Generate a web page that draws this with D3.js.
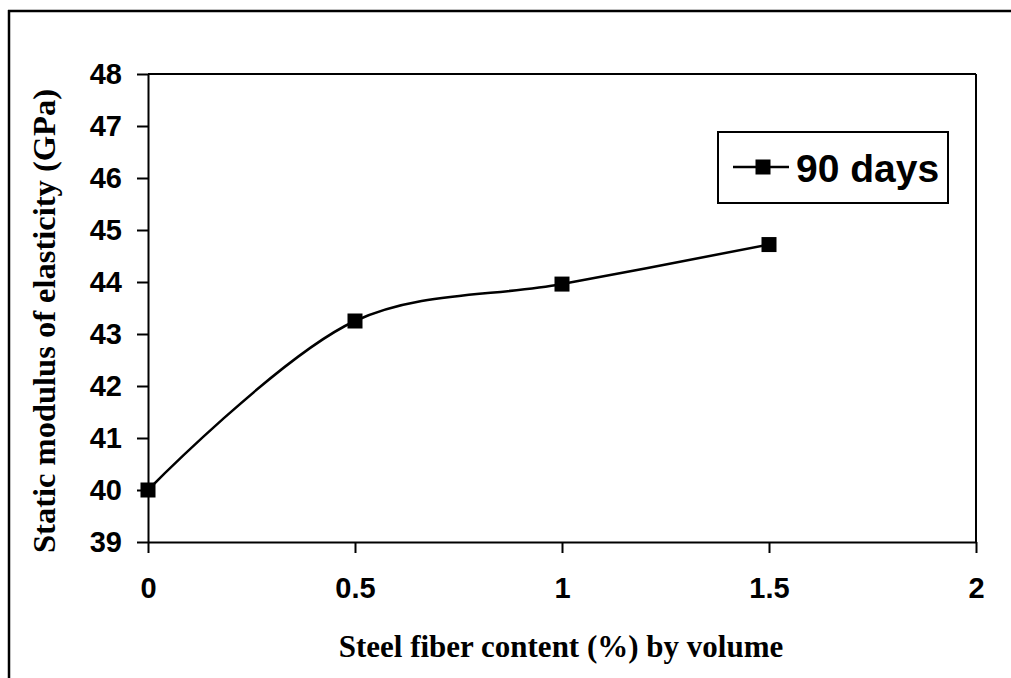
<!DOCTYPE html>
<html>
<head>
<meta charset="utf-8">
<script src="https://cdn.jsdelivr.net/npm/d3@7"></script>
<style>
html,body{margin:0;padding:0;background:#fff;overflow:hidden;}
svg{display:block;}
</style>
</head>
<body>
<svg id="chart" width="1011" height="678"></svg>
<script>
const fiberContent = [0, 0.5, 1, 1.5];
const modulus90 = [40.0, 43.25, 43.96, 44.72];
const seriesName = "90 days";
const xTicks = [0, 0.5, 1, 1.5, 2];
const yTicks = [39, 40, 41, 42, 43, 44, 45, 46, 47, 48];
const xTitle = "Steel fiber content (%) by volume";
const yTitle = "Static modulus of elasticity (GPa)";

const svg = d3.select("#chart");
const m = {left:148, right:976, top:74, bottom:542};

// outer frame (only left/top edges inside the picture)
svg.append("line").attr("x1",9).attr("x2",9).attr("y1",10).attr("y2",678)
  .attr("stroke","#000").attr("stroke-width",2.5);
svg.append("line").attr("x1",8).attr("x2",1011).attr("y1",11).attr("y2",11)
  .attr("stroke","#000").attr("stroke-width",2.5);

const x = d3.scaleLinear().domain([0,2]).range([m.left,m.right]);
const y = d3.scaleLinear().domain([39,48]).range([m.bottom,m.top]);

// plot area frame (top and right lines)
svg.append("line").attr("x1",m.left).attr("x2",m.right).attr("y1",m.top).attr("y2",m.top)
  .attr("stroke","#000").attr("stroke-width",2);
svg.append("line").attr("x1",m.right).attr("x2",m.right).attr("y1",m.top).attr("y2",m.bottom)
  .attr("stroke","#000").attr("stroke-width",2);

const tickFont = "'Liberation Sans', Arial, sans-serif";

const xAxis = svg.append("g").attr("transform",`translate(0,${m.bottom})`)
  .call(d3.axisBottom(x).tickValues(xTicks).tickSize(11).tickSizeOuter(0).tickPadding(24)
    .tickFormat(d=>String(d)));
const yAxis = svg.append("g").attr("transform",`translate(${m.left},0)`)
  .call(d3.axisLeft(y).tickValues(yTicks).tickSize(11).tickSizeOuter(0).tickPadding(15)
    .tickFormat(d=>String(d)));
[xAxis,yAxis].forEach(g=>{
  g.selectAll("path.domain").attr("stroke","#000").attr("stroke-width",2);
  g.selectAll(".tick line").attr("stroke","#000").attr("stroke-width",2);
  g.selectAll("text").attr("fill","#000").style("font-family",tickFont)
    .style("font-weight","bold").style("font-size","29px");
});

// line
const line = d3.line().x((d,i)=>x(fiberContent[i])).y(d=>y(d)).curve(d3.curveCatmullRom.alpha(0.5));
svg.append("path").datum(modulus90).attr("d",line).attr("fill","none")
  .attr("stroke","#000").attr("stroke-width",2.5);

const ms = 15;
svg.selectAll("rect.marker").data(modulus90).enter().append("rect").attr("class","marker")
  .attr("x",(d,i)=>x(fiberContent[i])-ms/2).attr("y",d=>y(d)-ms/2)
  .attr("width",ms).attr("height",ms).attr("fill","#000");

// legend
const lg = svg.append("g");
lg.append("rect").attr("x",718).attr("y",132).attr("width",230).attr("height",71)
  .attr("fill","#fff").attr("stroke","#000").attr("stroke-width",2);
lg.append("line").attr("x1",733).attr("x2",789).attr("y1",167).attr("y2",167)
  .attr("stroke","#000").attr("stroke-width",2.5);
lg.append("rect").attr("x",763-ms/2).attr("y",167-ms/2).attr("width",ms).attr("height",ms).attr("fill","#000");
lg.append("text").attr("x",796).attr("y",182).text(seriesName)
  .style("font-family",tickFont).style("font-weight","bold").style("font-size","39px");

// axis titles
const titleFont = "'Liberation Serif', 'Times New Roman', serif";
svg.append("text").attr("x",561).attr("y",657).attr("text-anchor","middle").text(xTitle)
  .style("font-family",titleFont).style("font-weight","bold").style("font-size","31px");
svg.append("text").attr("transform","translate(55,321) rotate(-90)").attr("text-anchor","middle").text(yTitle)
  .style("font-family",titleFont).style("font-weight","bold").style("font-size","32.5px");
</script>
</body>
</html>
